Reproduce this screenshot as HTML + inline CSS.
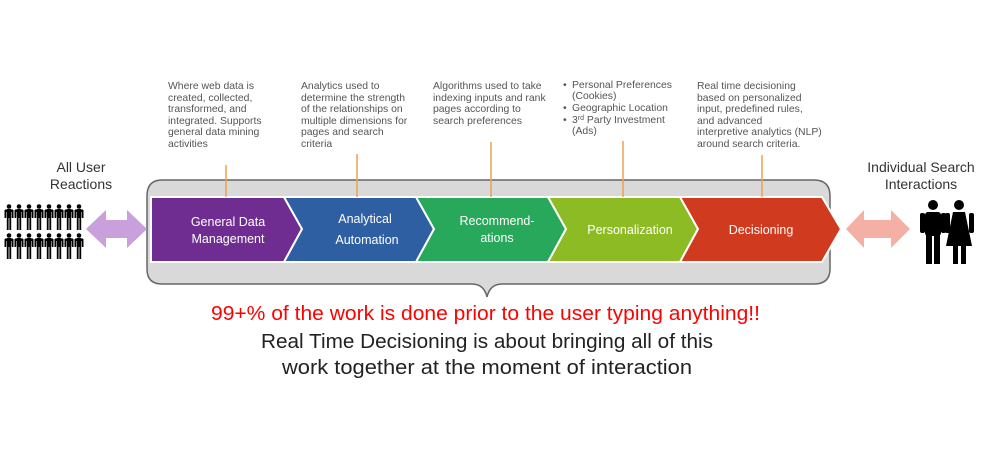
<!DOCTYPE html>
<html><head><meta charset="utf-8"><style>
html,body{margin:0;padding:0;background:#fff;}
svg{display:block;font-family:"Liberation Sans",sans-serif;}
.c{font-size:10.4px;fill:#555;}
.w{font-size:12.5px;fill:#fff;}
</style></head><body>
<svg width="1000" height="460" viewBox="0 0 1000 460">
<path d="M162,180 H814 Q830,180 830,196 V269 Q830,284 814,284 H502 Q490,284 487,297 Q484,284 472,284 H162 Q147,284 147,269 V196 Q147,180 162,180 Z" fill="#d9d9d9" stroke="#666" stroke-width="1.5"/>
<g stroke="#fff" stroke-width="2">
<polygon points="151,197 284,197 302,229 284,262 151,262" fill="#6f2c91"/>
<polygon points="284,197 416,197 434,229 416,262 284,262 302,229" fill="#2e5fa3"/>
<polygon points="416,197 548,197 566,229 548,262 416,262 434,229" fill="#27a85a"/>
<polygon points="548,197 680,197 698,229 680,262 548,262 566,229" fill="#8cbb24"/>
<polygon points="680,197 822,197 841,229 822,262 680,262 698,229" fill="#d03a1e"/>
</g>
<text class="w" x="228" y="226" text-anchor="middle">General Data</text>
<text class="w" x="228" y="243" text-anchor="middle">Management</text>
<text class="w" x="365" y="223" text-anchor="middle">Analytical</text>
<text class="w" x="367" y="244" text-anchor="middle">Automation</text>
<text class="w" x="497" y="225" text-anchor="middle">Recommend-</text>
<text class="w" x="497" y="242" text-anchor="middle">ations</text>
<text class="w" x="630" y="234" text-anchor="middle">Personalization</text>
<text class="w" x="761" y="234" text-anchor="middle">Decisioning</text>
<g stroke="#f0a050" stroke-width="1.5">
<line x1="226" y1="165" x2="226" y2="197"/>
<line x1="357" y1="154" x2="357" y2="197"/>
<line x1="491" y1="142" x2="491" y2="197"/>
<line x1="623" y1="141" x2="623" y2="197"/>
<line x1="762" y1="155" x2="762" y2="197"/>
</g>
<g class="c">
<text x="168" y="89">Where web data is</text>
<text x="168" y="101">created, collected,</text>
<text x="168" y="112">transformed, and</text>
<text x="168" y="124">integrated. Supports</text>
<text x="168" y="135">general data mining</text>
<text x="168" y="147">activities</text>
<text x="301" y="89">Analytics used to</text>
<text x="301" y="101">determine the strength</text>
<text x="301" y="112">of the relationships on</text>
<text x="301" y="124">multiple dimensions for</text>
<text x="301" y="135">pages and search</text>
<text x="301" y="147">criteria</text>
<text x="433" y="89">Algorithms used to take</text>
<text x="433" y="101">indexing inputs and rank</text>
<text x="433" y="112">pages according to</text>
<text x="433" y="124">search preferences</text>
<text x="563" y="88">•</text><text x="572" y="88">Personal Preferences</text>
<text x="572" y="99">(Cookies)</text>
<text x="563" y="111">•</text><text x="572" y="111">Geographic Location</text>
<text x="563" y="123">•</text><text x="572" y="123">3<tspan font-size="7" dy="-3">rd</tspan><tspan dy="3"> Party Investment</tspan></text>
<text x="572" y="134">(Ads)</text>
<text x="697" y="89">Real time decisioning</text>
<text x="697" y="101">based on personalized</text>
<text x="697" y="112">input, predefined rules,</text>
<text x="697" y="124">and advanced</text>
<text x="697" y="135">interpretive analytics (NLP)</text>
<text x="697" y="147">around search criteria.</text>
</g>
<g font-size="14" fill="#333" text-anchor="middle">
<text x="81" y="172">All User</text>
<text x="81" y="189">Reactions</text>
<text x="921" y="172">Individual Search</text>
<text x="921" y="189">Interactions</text>
</g>
<polygon points="86,229 106,210 106,220 127,220 127,210 147,229 127,248 127,238 106,238 106,248" fill="#c9a0dc"/>
<polygon points="846,229 864,210 864,220 891,220 891,210 910,229 891,248 891,238 864,238 864,248" fill="#f4b0a4"/>
<defs>
<g id="p">
<circle cx="5" cy="2.5" r="2.3"/>
<rect x="2.5" y="5" width="5" height="9" rx="1"/>
<rect x="1" y="5.5" width="8" height="2.5"/>
<rect x="0.5" y="6" width="1.5" height="8"/>
<rect x="8" y="6" width="1.5" height="8"/>
<rect x="2.8" y="13" width="1.8" height="13"/>
<rect x="5.4" y="13" width="1.8" height="13"/>
</g>
</defs>
<g fill="#000">
<use href="#p" x="4" y="204"/><use href="#p" x="14" y="204"/><use href="#p" x="24" y="204"/><use href="#p" x="34" y="204"/>
<use href="#p" x="44" y="204"/><use href="#p" x="54" y="204"/><use href="#p" x="64" y="204"/><use href="#p" x="74" y="204"/>
<use href="#p" x="4" y="233"/><use href="#p" x="14" y="233"/><use href="#p" x="24" y="233"/><use href="#p" x="34" y="233"/>
<use href="#p" x="44" y="233"/><use href="#p" x="54" y="233"/><use href="#p" x="64" y="233"/><use href="#p" x="74" y="233"/>
<circle cx="933" cy="205" r="5"/>
<rect x="925" y="212" width="16" height="24" rx="3"/>
<rect x="920" y="213" width="5" height="20" rx="2"/>
<rect x="941" y="213" width="5" height="20" rx="2"/>
<rect x="926" y="234" width="6" height="30"/>
<rect x="934" y="234" width="6" height="30"/>
<circle cx="959" cy="205" r="5"/>
<polygon points="953,212 965,212 972,246 946,246"/>
<rect x="945" y="213" width="5" height="20" rx="2"/>
<rect x="969" y="213" width="5" height="20" rx="2"/>
<rect x="953" y="244" width="5" height="20"/>
<rect x="961" y="244" width="5" height="20"/>
</g>
<text x="211" y="320" font-size="20" fill="#ff0000" textLength="549" lengthAdjust="spacingAndGlyphs">99+% of the work is done prior to the user typing anything!!</text>
<text x="261" y="348" font-size="20" fill="#222" textLength="452" lengthAdjust="spacingAndGlyphs">Real Time Decisioning is about bringing all of this</text>
<text x="282" y="374" font-size="20" fill="#222" textLength="410" lengthAdjust="spacingAndGlyphs">work together at the moment of interaction</text>
</svg>
</body></html>
